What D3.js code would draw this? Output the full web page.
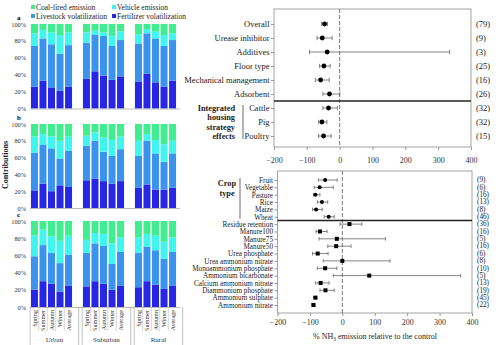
<!DOCTYPE html>
<html>
<head>
<meta charset="utf-8">
<script src="https://cdn.jsdelivr.net/npm/d3@7"></script>
<style>
body { margin: 0; background: #fff; }
svg { font-family: "Liberation Serif", "Times New Roman", serif; }
</style>
</head>
<body>
<script>
// ---- left: source contributions (%), 15 bars per panel: Urban x5, Suburban x5, Rural x5
const groups = ["Urban", "Suburban", "Rural"];
const seasons = ["Spring", "Summer", "Autumn", "Winter", "Average"];
const sources = ["Fertilizer volatilization", "Livestock volatilization", "Vehicle emission", "Coal-fired emission"];

const fertA = [26, 33, 25, 21, 26, 35, 44, 39, 34, 38, 32, 41, 31, 26, 33];
const liveA = [48, 50, 51, 44, 49, 43, 43, 47, 40, 43, 45, 48, 52, 48, 48];
const vehA  = [15, 10, 14, 22, 15, 12, 5, 4, 12, 10, 11, 5, 8, 13, 8];
const coalA = [11, 7, 10, 13, 10, 10, 8, 10, 14, 9, 12, 6, 9, 13, 11];

const fertB = [21, 29, 20, 27, 25, 33, 35, 32, 29, 32, 24, 28, 22, 22, 24];
const liveB = [45, 46, 51, 32, 43, 41, 45, 35, 33, 38, 38, 52, 43, 33, 41];
const vehB  = [19, 13, 14, 21, 17, 12, 10, 17, 19, 15, 18, 8, 16, 21, 15];
const coalB = [15, 12, 15, 20, 15, 14, 10, 16, 19, 15, 20, 12, 19, 24, 20];

const fertC = [20, 30, 27, 18, 25, 24, 30, 27, 20, 25, 23, 30, 26, 21, 25];
const liveC = [39, 42, 36, 33, 36, 39, 44, 44, 30, 39, 40, 40, 40, 35, 39];
const vehC  = [24, 18, 19, 26, 22, 15, 12, 14, 24, 17, 18, 15, 17, 20, 17];
const coalC = [17, 10, 18, 23, 17, 22, 14, 15, 26, 19, 19, 15, 17, 24, 19];

// ---- right: % NH3 emission relative to the control
const housingLabels = ["Overall", "Urease inhibitor", "Additives", "Floor type", "Mechanical management",
  "Adsorbent", "Cattle", "Pig", "Poultry"];
const housingMean = [-46, -53, -38, -48, -58, -31, -34, -54, -49];
const housingLow  = [-55, -69, -92, -61, -74, -51, -51, -64, -64];
const housingHigh = [-37, -23, 335, -29, -32, 0, -7, -39, -26];
const housingN    = [79, 9, 3, 25, 16, 26, 32, 32, 15];

const fieldLabels = ["Fruit", "Vegetable", "Pasture", "Rice", "Maize", "Wheat", "Residue retention",
  "Manure100", "Manure75", "Manure50", "Urea phosphate", "Urea ammonium nitrate",
  "Monoammonium phosphate", "Ammonium bicarbonate", "Calcium ammonium nitrate",
  "Diammonium phosphate", "Ammonium sulphate", "Ammonium nitrate"];
const fieldMean = [-53, -70, -83, -63, -81, -42, 22, -69, -17, -19, -76, 0, -53, 83, -67, -52, -83, -89];
const fieldLow  = [-74, -87, -89, -77, -92, -56, -7, -81, -72, -45, -92, -59, -77, -28, -83, -69, -88, -94];
const fieldHigh = [-16, -28, -69, -45, -62, -25, 60, -47, 133, 27, -44, 147, -17, 365, -41, -25, -79, -85];
const fieldN    = [9, 6, 16, 13, 8, 46, 36, 16, 5, 16, 6, 8, 10, 5, 13, 19, 45, 22];

const colors = ["#2626e4", "#3a94ee", "#40f4f0", "#40ee90"];

const svg = d3.select("body").append("svg")
  .attr("width", 500)
  .attr("height", 345);

// legend
const legendItems = [
  { name: "Coal-fired emission", i: 3, x: 31, y: 7 },
  { name: "Vehicle emission", i: 2, x: 112, y: 7 },
  { name: "Livestock volatilization", i: 1, x: 31, y: 16 },
  { name: "Fertilizer volatilization", i: 0, x: 112, y: 16 }
];
const leg = svg.selectAll(".leg").data(legendItems).enter().append("g")
  .attr("transform", d => `translate(${d.x},${d.y})`);
leg.append("rect").attr("x", 0).attr("y", -2).attr("width", 4).attr("height", 4)
  .attr("fill", d => colors[d.i]);
leg.append("text").attr("x", 5).attr("y", 2.5).attr("font-size", "7.5px").attr("fill", "#222")
  .text(d => d.name);

// scales for the stacked bars
const x0 = d3.scaleBand().domain(groups).range([25.5, 181.5]).paddingInner(0.18).paddingOuter(0.09);
const x1 = d3.scaleBand().domain(seasons).range([0, x0.bandwidth()]).paddingInner(0.18).paddingOuter(0.09);

const panels = [
  { key: "a", top: 24, bottom: 108.5, data: [fertA, liveA, vehA, coalA] },
  { key: "b", top: 124, bottom: 208, data: [fertB, liveB, vehB, coalB] },
  { key: "c", top: 221, bottom: 307, data: [fertC, liveC, vehC, coalC] }
];

panels.forEach(p => {
  const rows = [];
  groups.forEach((g, gi) => {
    seasons.forEach((s, si) => {
      const k = gi * 5 + si;
      const r = { group: g, season: s };
      sources.forEach((src, j) => { r[src] = p.data[j][k]; });
      rows.push(r);
    });
  });
  const stacked = d3.stack().keys(sources)(rows);
  const y = d3.scaleLinear().domain([0, 100]).range([p.bottom, p.top]);

  const g = svg.append("g");
  g.selectAll(".layer").data(stacked).enter().append("g")
    .attr("fill", (d, i) => colors[i])
    .selectAll("rect").data(d => d).enter().append("rect")
      .attr("x", d => x0(d.data.group) + x1(d.data.season))
      .attr("width", x1.bandwidth())
      .attr("y", d => y(d[1]))
      .attr("height", d => y(d[0]) - y(d[1]));

  const yAxis = g.append("g")
    .attr("transform", "translate(29,0)")
    .call(d3.axisLeft(y).tickValues([0, 20, 40, 60, 80, 100]).tickFormat(d => d + "%").tickSize(0).tickPadding(3));
  yAxis.select(".domain").remove();
  yAxis.selectAll("text").attr("font-size", "6.3px").attr("fill", "#333")
    .attr("font-family", "Liberation Serif, serif");

  g.append("line").attr("x1", 30).attr("x2", 180).attr("y1", p.bottom + 0.5).attr("y2", p.bottom + 0.5)
    .attr("stroke", "#aaa").attr("stroke-width", 0.8);

  g.append("text").attr("x", 17).attr("y", p.top - 4.5).attr("font-size", "7px")
    .attr("font-weight", "bold").text(p.key);
});

// category axis under panel c (two levels)
const base = 307;
const cat = svg.append("g");
groups.forEach(gname => {
  const gx = x0(gname);
  seasons.forEach((s, si) => {
    const cx = gx + x1(s) + x1.bandwidth() / 2;
    cat.append("text")
      .attr("transform", `translate(${cx + 2.2},${base + 3}) rotate(-90)`)
      .attr("text-anchor", "end")
      .attr("font-size", "6.2px").attr("fill", "#333")
      .text(s);
    if (si > 0) {
      const lx = gx + x1(s) - x1.step() * x1.paddingInner() / 2;
      cat.append("line").attr("x1", lx).attr("x2", lx).attr("y1", base).attr("y2", 331)
        .attr("stroke", "#bbb").attr("stroke-width", 0.6);
    }
  });
  [gx, gx + x0.step() - 3.5].forEach(lx => {
    cat.append("line").attr("x1", lx).attr("x2", lx).attr("y1", base).attr("y2", 345)
      .attr("stroke", "#aaa").attr("stroke-width", 0.7);
  });
  cat.append("text").attr("x", gx + (x0.step() - 3.5) / 2).attr("y", 342)
    .attr("text-anchor", "middle").attr("font-size", "7px").attr("fill", "#333").text(gname);
});

svg.append("text")
  .attr("transform", "translate(8,165) rotate(-90)")
  .attr("text-anchor", "middle")
  .attr("font-size", "8px").attr("font-weight", "bold").attr("fill", "#222")
  .text("Contributions");

// ---- forest plots
function forest(cfg) {
  const x = d3.scaleLinear().domain([-200, 400]).range([cfg.left, cfg.right]);
  const y = d3.scalePoint().domain(cfg.labels).range([cfg.firstY, cfg.lastY]);
  const g = svg.append("g");

  g.append("rect").attr("x", cfg.left).attr("y", cfg.top)
    .attr("width", cfg.right - cfg.left).attr("height", cfg.bottom - cfg.top)
    .attr("fill", "none").attr("stroke", "#999").attr("stroke-width", 0.9);

  g.append("line").attr("x1", x(0)).attr("x2", x(0)).attr("y1", cfg.top).attr("y2", cfg.bottom)
    .attr("stroke", "#555").attr("stroke-width", 0.8).attr("stroke-dasharray", "4,2");

  const splitY = (y(cfg.labels[cfg.split - 1]) + y(cfg.labels[cfg.split])) / 2;
  g.append("line").attr("x1", cfg.left).attr("x2", cfg.right).attr("y1", splitY).attr("y2", splitY)
    .attr("stroke", "#222").attr("stroke-width", 1.4);

  const xAxis = g.append("g").attr("transform", `translate(0,${cfg.bottom})`)
    .call(d3.axisBottom(x).tickValues(d3.range(-200, 401, 100)).tickSize(3).tickPadding(cfg.tickPad));
  xAxis.select(".domain").remove();
  xAxis.selectAll("line").attr("stroke", "#999");
  xAxis.selectAll("text").attr("font-size", cfg.tickFont).attr("fill", "#333")
    .attr("font-family", "Liberation Serif, serif");

  const yAxis = g.append("g").attr("transform", `translate(${cfg.left},0)`)
    .call(d3.axisLeft(y).tickSize(3).tickPadding(1.5));
  yAxis.select(".domain").remove();
  yAxis.selectAll("line").attr("stroke", "#999");
  yAxis.selectAll("text").attr("font-size", cfg.labelFont).attr("fill", "#222")
    .attr("font-family", "Liberation Serif, serif");

  const rows = cfg.labels.map((l, i) => ({ label: l, m: cfg.mean[i], lo: cfg.low[i], hi: cfg.high[i], n: cfg.n[i], i }));
  const bars = g.selectAll(".eb").data(rows).enter().append("g").attr("stroke", "#666").attr("stroke-width", 0.8);
  bars.append("line").attr("x1", d => x(d.lo)).attr("x2", d => x(d.hi))
    .attr("y1", d => y(d.label)).attr("y2", d => y(d.label));
  bars.append("line").attr("x1", d => x(d.lo)).attr("x2", d => x(d.lo))
    .attr("y1", d => y(d.label) - cfg.cap).attr("y2", d => y(d.label) + cfg.cap);
  bars.append("line").attr("x1", d => x(d.hi)).attr("x2", d => x(d.hi))
    .attr("y1", d => y(d.label) - cfg.cap).attr("y2", d => y(d.label) + cfg.cap);

  rows.forEach(d => {
    if (cfg.marker(d) === "circle") {
      g.append("circle").attr("cx", x(d.m)).attr("cy", y(d.label)).attr("r", cfg.r).attr("fill", "#000");
    } else {
      g.append("rect").attr("x", x(d.m) - cfg.r).attr("y", y(d.label) - cfg.r)
        .attr("width", cfg.r * 2).attr("height", cfg.r * 2).attr("fill", "#000");
    }
  });

  g.selectAll(".n").data(rows).enter().append("text")
    .attr("x", cfg.right + 5).attr("y", d => y(d.label)).attr("dy", "0.32em")
    .attr("font-size", cfg.labelFont).attr("fill", "#222")
    .text(d => "(" + d.n + ")");

  // bracketed group label
  const bt = y(cfg.labels[cfg.groupFrom]) - cfg.bracketPad;
  const bb = y(cfg.labels[cfg.groupTo]) + cfg.bracketPad;
  g.append("line").attr("x1", cfg.bracketX).attr("x2", cfg.bracketX).attr("y1", bt).attr("y2", bb)
    .attr("stroke", "#444").attr("stroke-width", 0.8);
  const gl = g.append("text").attr("text-anchor", cfg.groupAnchor).attr("font-size", cfg.groupFont)
    .attr("font-weight", "bold").attr("fill", "#222");
  cfg.groupLines.forEach((t, k) => {
    gl.append("tspan").attr("x", cfg.groupX).attr("y", cfg.groupY + k * cfg.groupLead).text(t);
  });
  return x;
}

forest({
  labels: housingLabels, mean: housingMean, low: housingLow, high: housingHigh, n: housingN,
  left: 274, right: 471, top: 9, bottom: 147, firstY: 24, lastY: 136, split: 6,
  tickPad: 7, tickFont: "8px", labelFont: "8.5px", cap: 2.2, r: 2.4,
  marker: () => "circle",
  groupFrom: 6, groupTo: 8, bracketX: 243, bracketPad: 3,
  groupLines: ["Integrated", "housing", "strategy", "effects"],
  groupX: 235, groupY: 111, groupLead: 9.3, groupAnchor: "end", groupFont: "8.3px"
});

forest({
  labels: fieldLabels, mean: fieldMean, low: fieldLow, high: fieldHigh, n: fieldN,
  left: 277.5, right: 472, top: 171, bottom: 313, firstY: 180, lastY: 305, split: 6,
  tickPad: 3.5, tickFont: "8px", labelFont: "7.2px", cap: 1.8, r: 2,
  marker: d => (d.i < 6 ? "circle" : "square"),
  groupFrom: 0, groupTo: 5, bracketX: 240, bracketPad: 2,
  groupLines: ["Crop", "type"],
  groupX: 227, groupY: 186, groupLead: 10, groupAnchor: "middle", groupFont: "8.3px"
});

const title = svg.append("text").attr("x", 375).attr("y", 339)
  .attr("text-anchor", "middle").attr("font-size", "8px").attr("fill", "#222");
title.append("tspan").text("% NH");
title.append("tspan").attr("font-size", "5.5px").attr("dy", 2).text("3");
title.append("tspan").attr("dy", -2).text("  emission relative to  the control");
</script>
</body>
</html>
